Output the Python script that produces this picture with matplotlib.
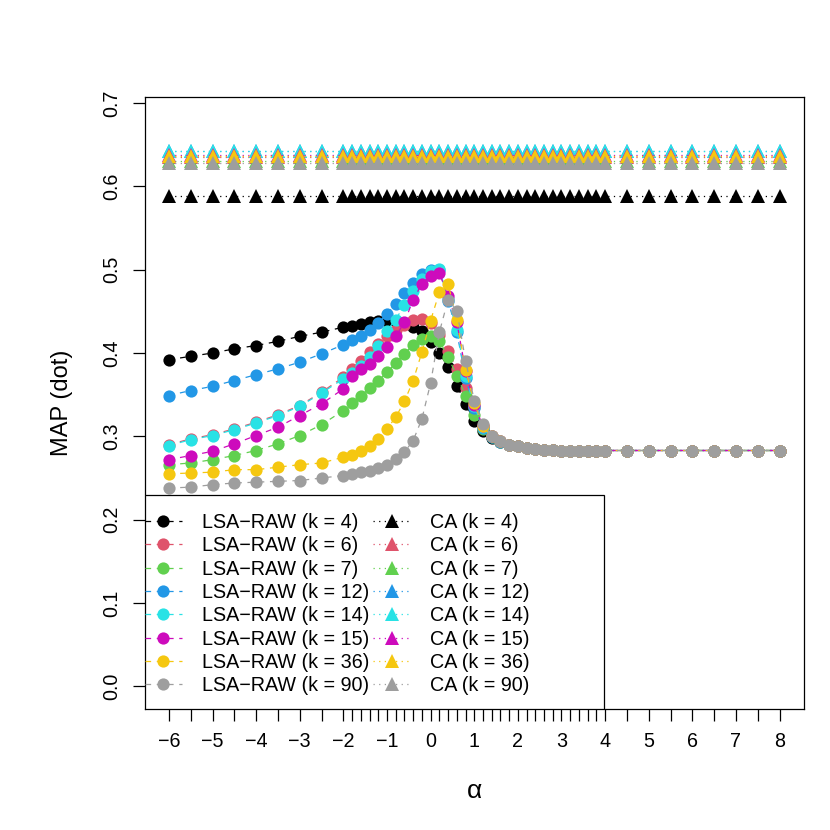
import matplotlib
matplotlib.use("Agg")
import matplotlib.pyplot as plt
from matplotlib.lines import Line2D
from matplotlib.patches import Rectangle

plt.rcParams['font.family'] = ['Liberation Sans', 'DejaVu Sans']

# alpha grid (x axis)
alpha = [-6.0, -5.5, -5.0, -4.5, -4.0, -3.5, -3.0, -2.5,
         -2.0, -1.8, -1.6, -1.4, -1.2, -1.0, -0.8, -0.6, -0.4, -0.2,
         0.0, 0.2, 0.4, 0.6, 0.8, 1.0, 1.2, 1.4, 1.6, 1.8, 2.0, 2.2,
         2.4, 2.6, 2.8, 3.0, 3.2, 3.4, 3.6, 3.8, 4.0,
         4.5, 5.0, 5.5, 6.0, 6.5, 7.0, 7.5, 8.0]

k_values = [4, 6, 7, 12, 14, 15, 36, 90]
colors = ['#000000', '#DF536B', '#61D04F', '#2297E6',
          '#28E2E5', '#CD0BBC', '#F5C710', '#9E9E9E']

# MAP for LSA-RAW, one list per k
lsa_k4 = [0.392, 0.396, 0.400, 0.405, 0.409, 0.414, 0.420, 0.425,
          0.431, 0.433, 0.435, 0.437, 0.438, 0.439, 0.438, 0.436, 0.431, 0.427,
          0.413, 0.400, 0.383, 0.361, 0.339, 0.319, 0.306, 0.298, 0.293, 0.290, 0.288, 0.286,
          0.285, 0.284, 0.2835, 0.283, 0.283, 0.283, 0.283, 0.283, 0.283,
          0.283, 0.283, 0.283, 0.283, 0.283, 0.283, 0.283, 0.283]
lsa_k6 = [0.290, 0.297, 0.302, 0.309, 0.317, 0.326, 0.337, 0.353,
          0.371, 0.381, 0.391, 0.401, 0.411, 0.420, 0.428, 0.434, 0.440, 0.441,
          0.436, 0.422, 0.403, 0.381, 0.358, 0.335, 0.312, 0.300, 0.294, 0.290, 0.288, 0.286,
          0.285, 0.284, 0.2835, 0.283, 0.283, 0.283, 0.283, 0.283, 0.283,
          0.283, 0.283, 0.283, 0.283, 0.283, 0.283, 0.283, 0.283]
lsa_k7 = [0.266, 0.268, 0.272, 0.277, 0.283, 0.291, 0.301, 0.314,
          0.331, 0.340, 0.349, 0.358, 0.367, 0.377, 0.388, 0.399, 0.410, 0.417,
          0.420, 0.415, 0.395, 0.373, 0.349, 0.326, 0.309, 0.299, 0.293, 0.290, 0.288, 0.286,
          0.285, 0.284, 0.2835, 0.283, 0.283, 0.283, 0.283, 0.283, 0.283,
          0.283, 0.283, 0.283, 0.283, 0.283, 0.283, 0.283, 0.283]
lsa_k12 = [0.349, 0.355, 0.360, 0.367, 0.374, 0.381, 0.389, 0.399,
           0.410, 0.416, 0.421, 0.428, 0.436, 0.447, 0.459, 0.472, 0.484, 0.495,
           0.500, 0.500, 0.463, 0.425, 0.370, 0.334, 0.310, 0.299, 0.293, 0.290, 0.288, 0.286,
           0.285, 0.284, 0.2835, 0.283, 0.283, 0.283, 0.283, 0.283, 0.283,
           0.283, 0.283, 0.283, 0.283, 0.283, 0.283, 0.283, 0.283]
lsa_k14 = [0.289, 0.296, 0.301, 0.308, 0.316, 0.325, 0.336, 0.352,
           0.369, 0.376, 0.384, 0.395, 0.409, 0.427, 0.440, 0.458, 0.475, 0.489,
           0.499, 0.501, 0.465, 0.428, 0.372, 0.336, 0.311, 0.300, 0.294, 0.290, 0.288, 0.286,
           0.285, 0.284, 0.2835, 0.283, 0.283, 0.283, 0.283, 0.283, 0.283,
           0.283, 0.283, 0.283, 0.283, 0.283, 0.283, 0.283, 0.283]
lsa_k15 = [0.272, 0.277, 0.282, 0.291, 0.301, 0.311, 0.325, 0.339,
           0.357, 0.373, 0.381, 0.387, 0.396, 0.407, 0.420, 0.437, 0.464, 0.483,
           0.493, 0.496, 0.468, 0.437, 0.379, 0.338, 0.312, 0.300, 0.294, 0.290, 0.288, 0.286,
           0.285, 0.284, 0.2835, 0.283, 0.283, 0.283, 0.283, 0.283, 0.283,
           0.283, 0.283, 0.283, 0.283, 0.283, 0.283, 0.283, 0.283]
lsa_k36 = [0.255, 0.256, 0.257, 0.260, 0.260, 0.263, 0.266, 0.268,
           0.275, 0.278, 0.282, 0.288, 0.297, 0.309, 0.323, 0.342, 0.367, 0.401,
           0.439, 0.473, 0.483, 0.440, 0.380, 0.340, 0.312, 0.300, 0.294, 0.290, 0.288, 0.286,
           0.285, 0.284, 0.2835, 0.283, 0.283, 0.283, 0.283, 0.283, 0.283,
           0.283, 0.283, 0.283, 0.283, 0.283, 0.283, 0.283, 0.283]
lsa_k90 = [0.238, 0.239, 0.242, 0.244, 0.245, 0.246, 0.247, 0.250,
           0.253, 0.255, 0.257, 0.259, 0.262, 0.266, 0.273, 0.281, 0.295, 0.321,
           0.364, 0.425, 0.464, 0.451, 0.391, 0.343, 0.315, 0.301, 0.294, 0.290, 0.288, 0.286,
           0.285, 0.284, 0.2835, 0.283, 0.283, 0.283, 0.283, 0.283, 0.283,
           0.283, 0.283, 0.283, 0.283, 0.283, 0.283, 0.283, 0.283]

# MAP for CA (constant over alpha)
ca_map = [0.588, 0.635, 0.631, 0.643, 0.642, 0.638, 0.637, 0.628]

lsa_all = [lsa_k4, lsa_k6, lsa_k7, lsa_k12, lsa_k14, lsa_k15, lsa_k36, lsa_k90]

fig = plt.figure(figsize=(8.3, 8.3), dpi=100)
ax = fig.add_axes([144.5 / 830, 1 - 709 / 830, 659.5 / 830, 612 / 830])

for vals, c in zip(lsa_all, colors):
    ax.plot(alpha, vals, color=c, lw=0.9, ls=(0, (4.5, 4.5)),
            marker='o', ms=8.8, mew=0, zorder=2)
for v, c in zip(ca_map, colors):
    ax.plot(alpha, [v] * len(alpha), color=c, lw=0.9, ls=(0, (1, 3.5)),
            marker='^', ms=10, mew=0, zorder=2)

ax.set_xlim(-6.56, 8.56)
ax.set_ylim(-0.0272, 0.7072)

xlabels = []
for a in alpha:
    if a == round(a):
        xlabels.append(str(int(a)).replace('-', '\u2212'))
    else:
        xlabels.append('')
ax.set_xticks(alpha)
ax.set_xticklabels(xlabels)
yt = [0.0, 0.1, 0.2, 0.3, 0.4, 0.5, 0.6, 0.7]
ax.set_yticks(yt)
ax.set_yticklabels([f"{v:.1f}" for v in yt], rotation=90, va='center')

ax.tick_params(direction='out', length=8.6, width=0.9, labelsize=14.2, pad=8)
for s in ax.spines.values():
    s.set_linewidth(0.9)

ax.set_ylabel('MAP (dot)', fontsize=17)
ax.yaxis.set_label_coords(-0.108, 0.5)
ax.set_xlabel('\u03b1', fontsize=19)
ax.xaxis.set_label_coords(0.5, -0.115)

# legend box (R-style, wider than its content)
box = Rectangle((0, 0), (604 - 144.5) / 659.5, (709 - 495) / 612,
                transform=ax.transAxes, facecolor='white', edgecolor='black',
                lw=0.9, zorder=3)
ax.add_patch(box)

handles = []
labels = []
for k, c in zip(k_values, colors):
    handles.append(Line2D([], [], color=c, lw=0.9, ls=(0, (4.5, 4.5)),
                          marker='o', ms=8.8, mew=0))
    labels.append(f'LSA\u2212RAW (k = {k})')
for k, c in zip(k_values, colors):
    handles.append(Line2D([], [], color=c, lw=0.9, ls=(0, (1, 3.5)),
                          marker='^', ms=10, mew=0))
    labels.append(f'CA (k = {k})')

leg = ax.legend(handles, labels, ncol=2, loc='upper left',
                bbox_to_anchor=(0.0, (709 - 513) / 612), frameon=False,
                fontsize=14.2, handlelength=1.9, handletextpad=1.0,
                columnspacing=0.2, labelspacing=0.22, borderpad=0.0,
                borderaxespad=0.0)
leg.set_zorder(4)

fig.savefig('out.png', dpi=100)
